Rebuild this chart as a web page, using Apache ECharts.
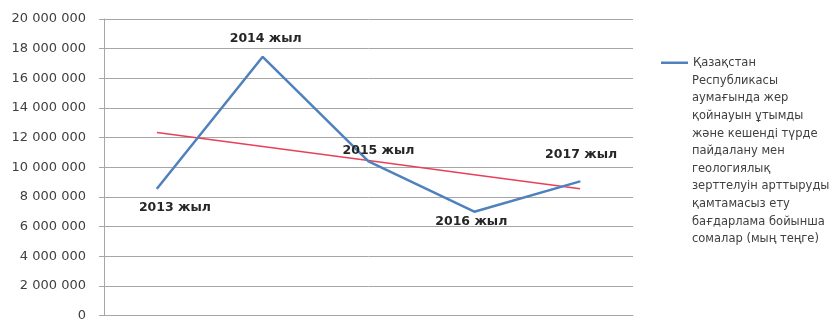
<!DOCTYPE html>
<html>
<head>
<meta charset="utf-8">
<script src="https://cdn.jsdelivr.net/npm/echarts@6/dist/echarts.min.js"></script>
<style>
  html, body { margin: 0; padding: 0; background: #fff; }
  #chart { width: 834px; height: 322px; }
</style>
</head>
<body>
<div id="chart"></div>
<script>
// data
const years = ["2013 жыл", "2014 жыл", "2015 жыл", "2016 жыл", "2017 жыл"];
const amounts = [8550000, 17450000, 10400000, 7000000, 9050000];
const trend = [12350000, 11400000, 10450000, 9500000, 8550000];
const seriesName = "Қазақстан\nРеспубликасы\nаумағында жер\nқойнауын ұтымды\nжәне кешенді түрде\nпайдалану мен\nгеологиялық\nзерттелуін арттыруды\nқамтамасыз ету\nбағдарлама бойынша\nсомалар (мың теңге)";

// where each year label sits relative to its point
const labelOffsets = [[18, 19], [3, -18], [10, -11], [-3, 10], [1, -27]];

const chart = echarts.init(document.getElementById("chart"));

const fmt = (v) => String(v).replace(/\B(?=(\d{3})+(?!\d))/g, " ");
const nameLines = seriesName.split("\n");

const lineData = amounts.map((v, i) => ({
  value: v,
  label: { offset: labelOffsets[i] },
}));

const option = {
  animation: false,
  backgroundColor: "#fff",
  grid: { left: 104, right: 201, top: 19, bottom: 6 },
  legend: {
    data: [seriesName],
    left: 661,
    top: 54,
    padding: 0,
    itemWidth: 27,
    itemHeight: 14,
    itemGap: 0,
    icon: "path://M0,6 L27,6 L27,8.5 L0,8.5 Z",
    formatter: () => nameLines[0],
    textStyle: {
      fontFamily: "DejaVu Sans",
      fontSize: 11.5,
      color: "#404040",
      lineHeight: 17.5,
    },
  },
  // the rest of the long legend name, under the first line
  graphic: [
    {
      type: "text",
      left: 692,
      top: 72,
      style: {
        text: nameLines.slice(1).join("\n"),
        fontFamily: "DejaVu Sans",
        fontSize: 11.5,
        lineHeight: 17.6,
        fill: "#404040",
      },
    },
  ],
  xAxis: {
    type: "category",
    data: years,
    boundaryGap: true,
    axisLine: { lineStyle: { color: "#a6a6a6", width: 1 } },
    axisTick: { show: false },
    axisLabel: { show: false },
  },
  yAxis: {
    type: "value",
    min: 0,
    max: 20000000,
    interval: 2000000,
    axisLine: { show: true, lineStyle: { color: "#a6a6a6", width: 1 } },
    axisTick: { show: true, length: 5, lineStyle: { color: "#a6a6a6" } },
    splitLine: { lineStyle: { color: "#a6a6a6", width: 1 } },
    axisLabel: {
      margin: 18,
      fontFamily: "DejaVu Sans",
      fontSize: 13,
      color: "#404040",
      formatter: fmt,
    },
  },
  series: [
    {
      name: seriesName,
      type: "line",
      data: lineData,
      symbol: "circle",
      symbolSize: 1,
      lineStyle: { color: "#4f81bd", width: 2.5 },
      itemStyle: { color: "#4f81bd" },
      label: {
        show: true,
        position: "inside",
        formatter: "{b}",
        fontFamily: "DejaVu Sans",
        fontWeight: "bold",
        fontSize: 12.5,
        color: "#262626",
      },
      z: 3,
    },
    {
      name: "trend",
      type: "line",
      data: trend,
      symbol: "none",
      lineStyle: { color: "#e8405a", width: 1.5 },
      z: 2,
    },
  ],
};

chart.setOption(option);
</script>
</body>
</html>
